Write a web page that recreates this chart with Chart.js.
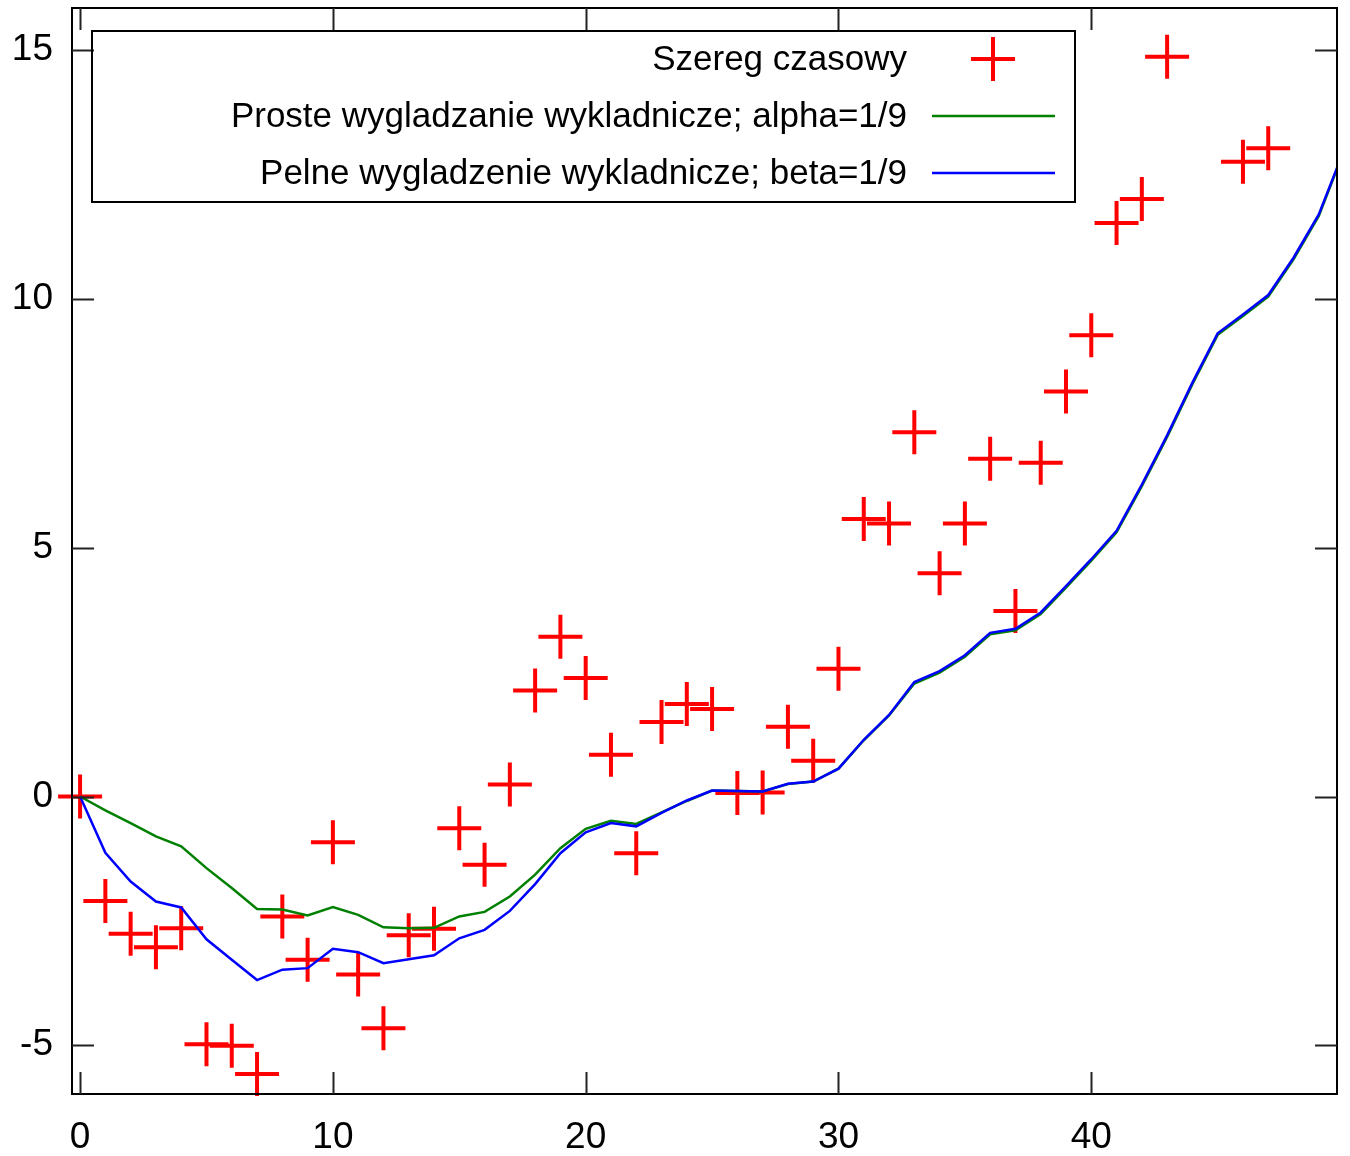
<!DOCTYPE html>
<html>
<head>
<meta charset="utf-8">
<script src="https://cdn.jsdelivr.net/npm/chart.js@4.4.1/dist/chart.umd.min.js"></script>
<style>
  html, body { margin: 0; padding: 0; background: #fff; }
  #wrap { width: 1350px; height: 1156px; }
</style>
</head>
<body>
<div id="wrap"><canvas id="chart" width="1350" height="1156"></canvas></div>
<script>
// time steps
const steps = [0, 1, 2, 3, 4, 5, 6, 7, 8, 9, 10, 11, 12, 13, 14, 15, 16, 17, 18, 19, 20,
  21, 22, 23, 24, 25, 26, 27, 28, 29, 30, 31, 32, 33, 34, 35, 36, 37, 38, 39, 40,
  41, 42, 43, 44, 45, 46, 47, 48, 49, 50];

// raw series (points above the top of the plot are left out)
const szereg = [0, -2.10, -2.76, -3.03, -2.65, -4.98, -5.01, -5.58, -2.41, -3.28, -0.92,
  -3.58, -4.66, -2.79, -2.66, -0.64, -1.37, 0.24, 2.13, 3.21, 2.38,
  0.84, -1.14, 1.50, 1.86, 1.76, 0.07, 0.08, 1.40, 0.72, 2.57,
  5.58, 5.49, 7.32, 4.49, 5.49, 6.79, 3.73, 6.71, 8.14, 9.27,
  11.53, 12.01, 14.87, null, null, 12.76, 13.03, null, null, null];

// simple exponential smoothing, alpha = 1/9
const proste = [0, -0.28, -0.535, -0.80, -1.00, -1.44, -1.84, -2.26, -2.27, -2.39, -2.22,
  -2.38, -2.63, -2.65, -2.64, -2.41, -2.32, -2.01, -1.57, -1.04, -0.65,
  -0.49, -0.55, -0.32, -0.09, 0.12, 0.11, 0.10, 0.25, 0.30, 0.56,
  1.13, 1.63, 2.27, 2.49, 2.81, 3.26, 3.34, 3.67, 4.20, 4.74,
  5.31, 6.24, 7.23, 8.29, 9.28, 9.66, 10.05, 10.80, 11.67, 12.98];

// full exponential smoothing, beta = 1/9
const pelne = [0, -1.13, -1.71, -2.11, -2.23, -2.87, -3.28, -3.69, -3.48, -3.45, -3.06,
  -3.13, -3.35, -3.27, -3.19, -2.85, -2.68, -2.30, -1.76, -1.14, -0.72,
  -0.535, -0.60, -0.33, -0.08, 0.12, 0.11, 0.10, 0.255, 0.30, 0.56,
  1.14, 1.64, 2.30, 2.52, 2.84, 3.29, 3.37, 3.70, 4.23, 4.77,
  5.34, 6.27, 7.26, 8.32, 9.31, 9.69, 10.08, 10.83, 11.70, 13.00];

const xTicks = [0, 10, 20, 30, 40];
const yTicks = [-5, 0, 5, 10, 15];
const xRange = [-0.32, 49.72];
const yRange = [-5.98, 15.85];

const labels = ['Szereg czasowy',
  'Proste wygladzanie wykladnicze; alpha=1/9',
  'Pelne wygladzenie wykladnicze; beta=1/9'];

const FONT = '"Liberation Sans", Arial, sans-serif';
const toXY = arr => steps.map((x, i) => ({ x: x, y: arr[i] }));

// gnuplot keeps the frame fixed, so drop the room chart.js saves for edge labels
function noPad(s) {
  s.paddingTop = 0; s.paddingBottom = 0; s.paddingLeft = 0; s.paddingRight = 0;
}

// gnuplot-like frame, inward mirrored ticks and key box
const gnuFrame = {
  id: 'gnuFrame',
  afterDraw(chart) {
    const { ctx, chartArea: a, scales } = chart;
    const tl = 22;
    ctx.save();
    ctx.strokeStyle = '#000';
    ctx.lineWidth = 2;
    ctx.strokeRect(a.left, a.top, a.right - a.left, a.bottom - a.top);

    ctx.strokeStyle = '#222';
    ctx.beginPath();
    xTicks.forEach(v => {
      const px = Math.round(scales.x.getPixelForValue(v)) + 0.5;
      ctx.moveTo(px, a.bottom); ctx.lineTo(px, a.bottom - tl);
      ctx.moveTo(px, a.top); ctx.lineTo(px, a.top + tl);
    });
    yTicks.forEach(v => {
      const py = Math.round(scales.y.getPixelForValue(v)) + 0.5;
      ctx.moveTo(a.left, py); ctx.lineTo(a.left + tl, py);
      ctx.moveTo(a.right, py); ctx.lineTo(a.right - tl, py);
    });
    ctx.stroke();

    // key
    ctx.strokeStyle = '#000';
    ctx.lineWidth = 2;
    ctx.strokeRect(92, 31, 983, 171);
    ctx.font = '35px ' + FONT;
    ctx.fillStyle = '#000';
    ctx.textAlign = 'right';
    ctx.textBaseline = 'middle';
    const rows = [59, 116, 173];
    chart.data.datasets.forEach((ds, i) => {
      const y = rows[i];
      ctx.fillText(ds.label, 907, y + 1);
      ctx.strokeStyle = ds.borderColor;
      ctx.lineWidth = ds.borderWidth;
      ctx.beginPath();
      if (ds.showLine === false) {
        const r = ds.pointRadius;
        ctx.moveTo(993 - r, y); ctx.lineTo(993 + r, y);
        ctx.moveTo(993, y - r); ctx.lineTo(993, y + r);
      } else {
        ctx.moveTo(932, y); ctx.lineTo(1055, y);
      }
      ctx.stroke();
    });
    ctx.restore();
  }
};

new Chart(document.getElementById('chart'), {
  type: 'line',
  data: {
    datasets: [
      {
        label: labels[0],
        data: toXY(szereg),
        showLine: false,
        borderColor: '#ff0000',
        backgroundColor: '#ff0000',
        pointStyle: 'cross',
        pointRadius: 22,
        pointBorderWidth: 4,
        borderWidth: 4,
        clip: false,
        order: 3
      },
      {
        label: labels[1],
        data: toXY(proste),
        borderColor: '#008000',
        borderWidth: 2.5,
        pointRadius: 0,
        tension: 0,
        order: 2
      },
      {
        label: labels[2],
        data: toXY(pelne),
        borderColor: '#0000ff',
        borderWidth: 2.5,
        pointRadius: 0,
        tension: 0,
        order: 1
      }
    ]
  },
  options: {
    responsive: false,
    animation: false,
    devicePixelRatio: 1,
    layout: { autoPadding: false, padding: { top: 8, right: 13, left: 0, bottom: 0 } },
    plugins: {
      legend: { display: false },
      tooltip: { enabled: false }
    },
    scales: {
      x: {
        type: 'linear',
        min: xRange[0],
        max: xRange[1],
        afterBuildTicks: s => { s.ticks = xTicks.map(v => ({ value: v })); },
        afterFit: s => { s.height = 62; noPad(s); },
        grid: { display: false, drawTicks: false },
        border: { display: false },
        ticks: {
          autoSkip: false, maxRotation: 0, padding: 22, color: '#000',
          font: { family: FONT, size: 37 }
        }
      },
      y: {
        type: 'linear',
        min: yRange[0],
        max: yRange[1],
        afterBuildTicks: s => { s.ticks = yTicks.map(v => ({ value: v })); },
        afterFit: s => { s.width = 72; noPad(s); },
        grid: { display: false, drawTicks: false },
        border: { display: false },
        ticks: {
          autoSkip: false, padding: 19, color: '#000',
          font: { family: FONT, size: 37 }
        }
      }
    }
  },
  plugins: [gnuFrame]
});
</script>
</body>
</html>
